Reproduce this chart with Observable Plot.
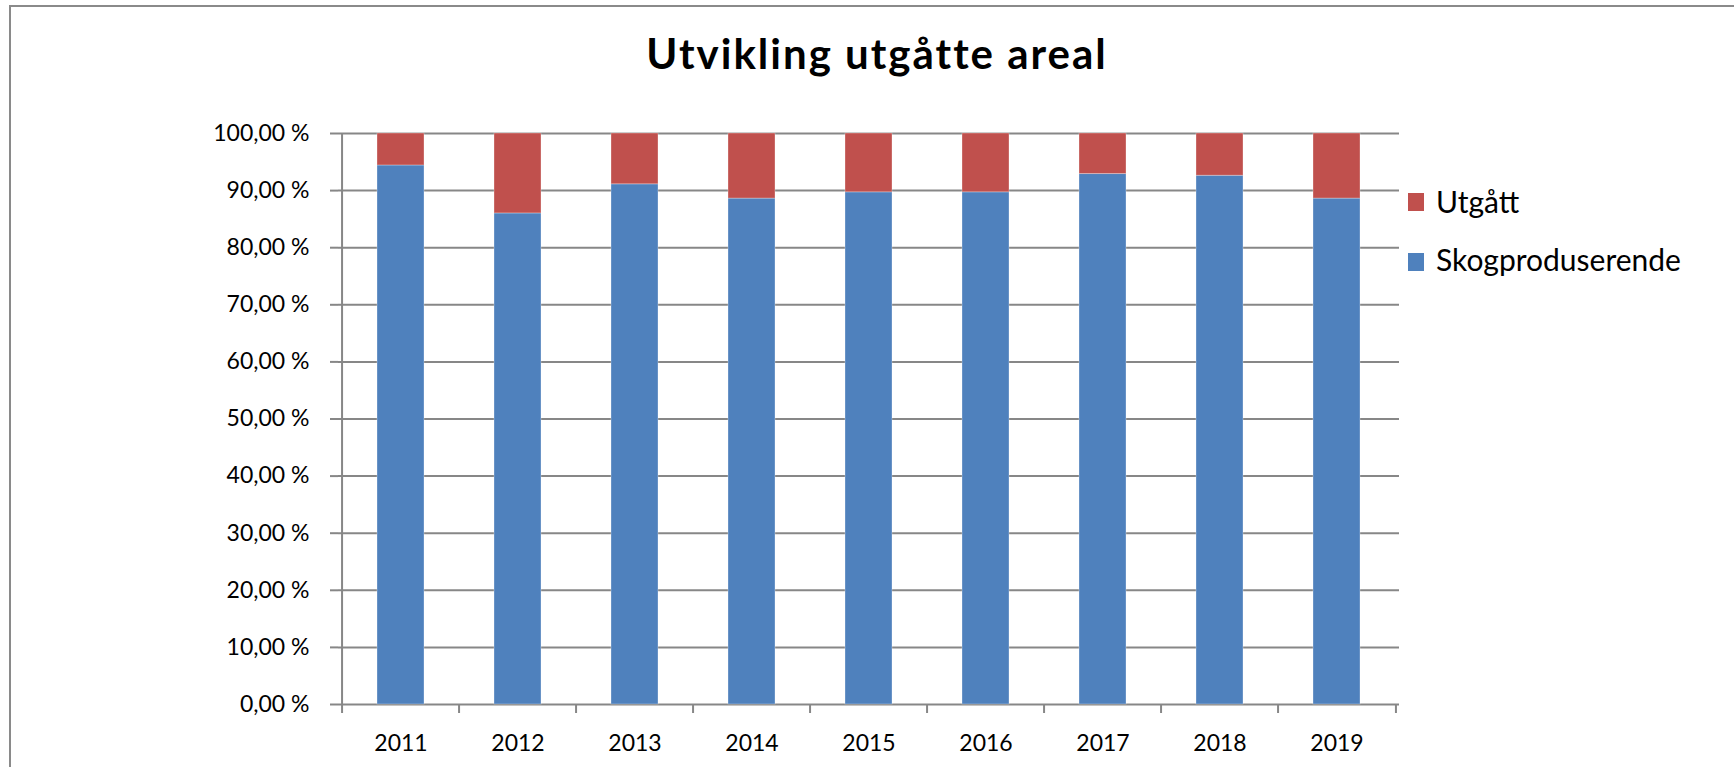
<!DOCTYPE html>
<html>
<head>
<meta charset="utf-8">
<script src="https://cdn.jsdelivr.net/npm/d3@7"></script>
<script src="https://cdn.jsdelivr.net/npm/@observablehq/plot@0.6"></script>
<style>
  html, body { margin: 0; padding: 0; background: #fff; overflow: hidden; }
  #wrap { position: relative; width: 1734px; height: 767px; overflow: hidden; font-family: Lato, "Open Sans", sans-serif; }
  #frame { position: absolute; left: 9px; top: 5px; width: 2000px; height: 1000px; border-top: 2px solid #8a8a8a; border-left: 2px solid #8a8a8a; box-sizing: border-box; }
  #chart { position: absolute; left: 0; top: 0; }
  #title { position: absolute; left: 0; width: 1754px; top: 32px; text-align: center; font-weight: 700; font-size: 42px; line-height: 42px; letter-spacing: 2px; color: #000; white-space: nowrap; }
  .leg { position: absolute; left: 1408px; font-size: 30px; line-height: 30px; color: #000; white-space: nowrap; }
  .leg .sw { position: absolute; left: 0; width: 16px; height: 18px; }
  .leg .lab { position: absolute; left: 28px; top: 0; }
</style>
</head>
<body>
<div id="wrap">
  <div id="frame"></div>
  <div id="chart"></div>
  <div id="title"></div>
  <div id="legend"></div>
</div>
<script>
const title = "Utvikling utgåtte areal";
const years = ["2011", "2012", "2013", "2014", "2015", "2016", "2017", "2018", "2019"];
const skog = [94.4, 86.0, 91.1, 88.6, 89.7, 89.7, 92.9, 92.6, 88.6];
const utgatt = [5.6, 14.0, 8.9, 11.4, 10.3, 10.3, 7.1, 7.4, 11.4];
const series = ["Skogproduserende", "Utgått"];
const colors = ["#4F81BD", "#C0504D"];
const legendOrder = ["Utgått", "Skogproduserende"];
const yTicks = [0, 10, 20, 30, 40, 50, 60, 70, 80, 90, 100];
const yFmt = d => d.toFixed(2).replace(".", ",") + " %";

const rows = [];
years.forEach((y, i) => {
  rows.push({year: y, series: series[0], value: skog[i]});
  rows.push({year: y, series: series[1], value: utgatt[i]});
});

const W = 1734, H = 767;
const mL = 338, mR = 335, mT = 133, mB = 63;
const step = (W - mL - mR) / years.length;
const gridColor = "#878787";

const chart = Plot.plot({
  width: W,
  height: H,
  marginLeft: mL,
  marginRight: mR,
  marginTop: mT,
  marginBottom: mB,
  style: {fontFamily: "Lato, 'Open Sans', sans-serif", background: "transparent", color: "#000"},
  x: {type: "band", domain: years, paddingInner: 0.6, paddingOuter: 0.3, axis: null, label: null},
  y: {domain: [0, 100], axis: null, label: null},
  color: {domain: series, range: colors},
  marks: [
    Plot.gridY(yTicks, {stroke: gridColor, strokeOpacity: 1, strokeWidth: 2}),
    Plot.barY(rows, Plot.stackY({order: series}, {
      x: "year", y: "value", fill: "series",
      stroke: "#ffffff", strokeOpacity: 0.3, strokeWidth: 1
    })),
    Plot.ruleX([years[0]], {y1: 0, y2: 100, dx: -step / 2, stroke: gridColor, strokeWidth: 2}),
    Plot.axisY(yTicks, {
      tickSize: 8, tickPadding: 21, tickFormat: yFmt, label: null,
      stroke: gridColor, strokeWidth: 2, fontSize: 23, fill: "#000"
    }),
    Plot.axisX(years, {tickSize: 9, tickFormat: () => "", label: null, dx: -step / 2, stroke: gridColor, strokeWidth: 2}),
    Plot.axisX([years[years.length - 1]], {tickSize: 9, tickFormat: () => "", label: null, dx: step / 2, stroke: gridColor, strokeWidth: 2}),
    Plot.axisX(years, {tickSize: 0, tickPadding: 30, label: null, fontSize: 23, fill: "#000"})
  ]
});
document.getElementById("chart").appendChild(chart);

document.getElementById("title").textContent = title;

const legend = document.getElementById("legend");
const legTops = [186, 244];
legendOrder.forEach((name, i) => {
  const item = document.createElement("div");
  item.className = "leg";
  item.style.top = legTops[i] + "px";
  const sw = document.createElement("div");
  sw.className = "sw";
  sw.style.background = colors[series.indexOf(name)];
  sw.style.top = (i === 0 ? 7 : 9) + "px";
  const lab = document.createElement("div");
  lab.className = "lab";
  lab.textContent = name;
  item.appendChild(sw);
  item.appendChild(lab);
  legend.appendChild(item);
});
</script>
</body>
</html>
